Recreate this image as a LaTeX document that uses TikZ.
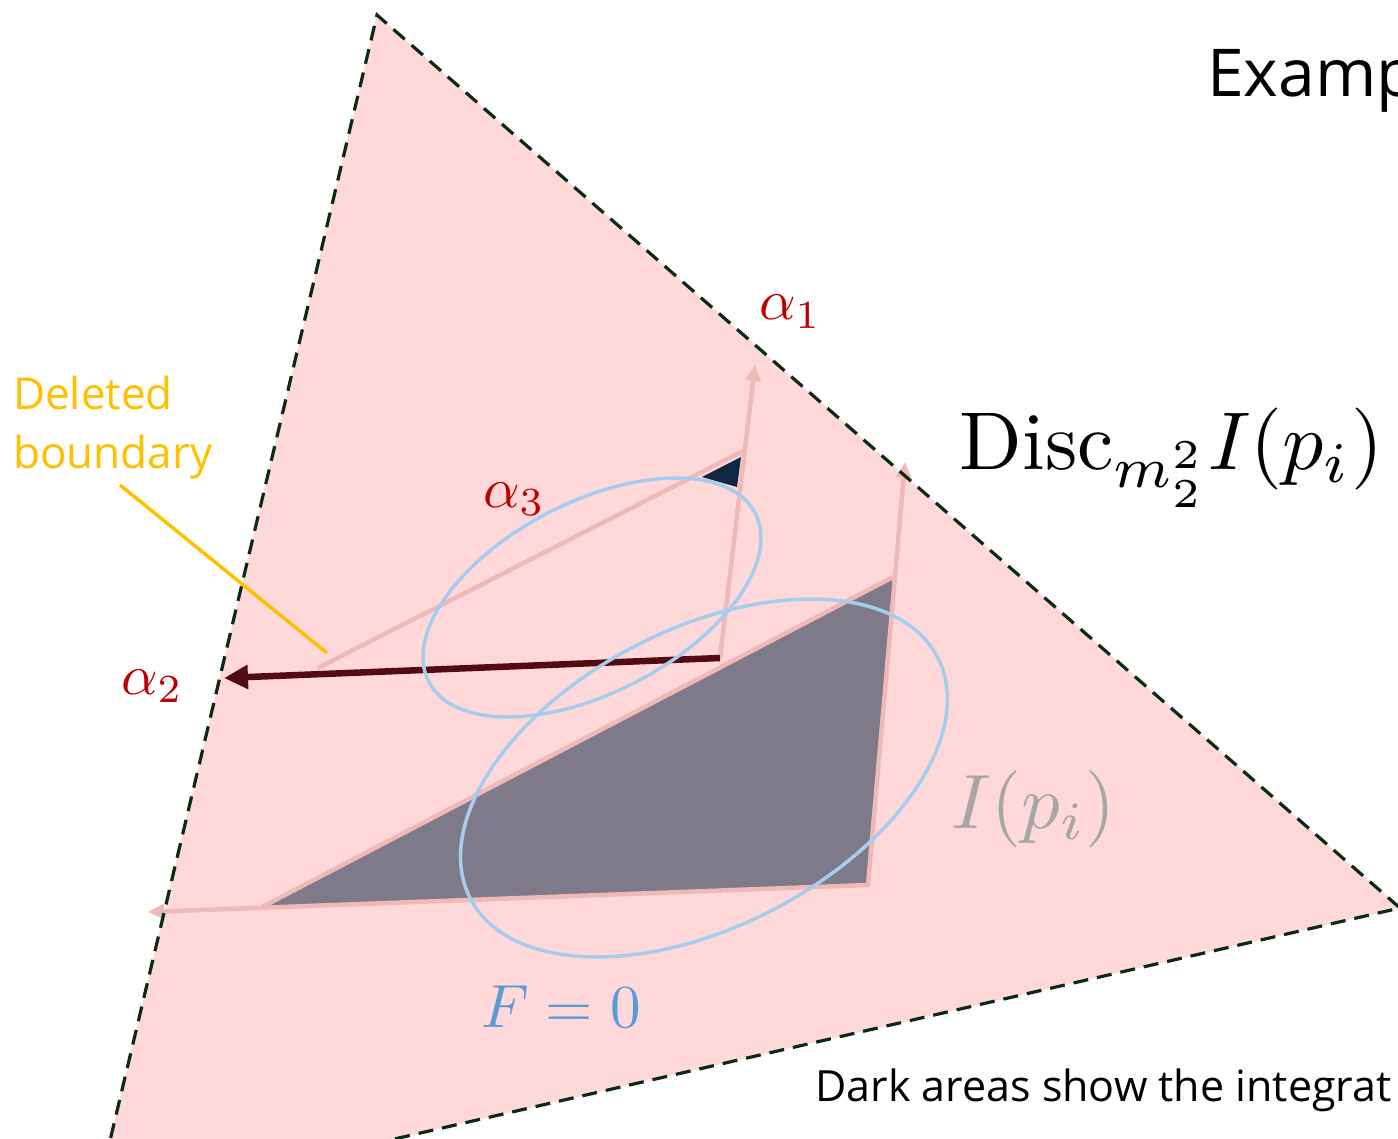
\documentclass[tikz,border=0pt]{standalone}
\usepackage{fontspec}
\newfontfamily\uifont{Open Sans}
\usetikzlibrary{arrows.meta}
\definecolor{pinkbg}{HTML}{FFD9D9}
\definecolor{pinkln}{HTML}{EFB9B8}
\definecolor{darkfill}{HTML}{7F7A89}
\definecolor{navyfill}{HTML}{0E2841}
\definecolor{ellblue}{HTML}{A6CDEF}
\definecolor{arrowred}{HTML}{520B10}
\definecolor{alphared}{HTML}{C00000}
\definecolor{labgray}{HTML}{A6A6A6}
\definecolor{labblue}{HTML}{5B9BD5}
\definecolor{orangeln}{HTML}{FFC000}
\definecolor{dashgreen}{HTML}{0B2A14}
\tikzset{
  pinkline/.style={draw=pinkln, line width=4.5pt, line join=miter},
  pinktip/.style={-{Triangle[length=16pt,width=15pt]}},
  ellline/.style={draw=ellblue, line width=3.5pt},
  boundary/.style={draw=dashgreen, line width=3.2pt, dash pattern=on 15pt off 9pt},
  txt/.style={inner sep=0pt, anchor=base west},
}
\begin{document}
\begin{tikzpicture}[x=1pt,y=-1pt]
\useasboundingbox (0,0) rectangle (1398,1139);
\clip (0,0) rectangle (1398,1139);
% big triangle
\coordinate (T) at (377,15);
\coordinate (R) at (1400,908);
\coordinate (L) at (94,1208);
\fill[pinkbg] (T) -- (R) -- (L) -- cycle;
% dark regions
\coordinate (D1) at (262,907);
\coordinate (D2) at (893,577);
\coordinate (D3) at (868,885);
\fill[darkfill] (D1) -- (D2) -- (D3) -- cycle;
\coordinate (N1) at (741,457);
\coordinate (N2) at (702,477);
\coordinate (N3) at (737,487);
\fill[navyfill] (N1) -- (N2) -- (N3) -- cycle;
% pink wedge lines
\coordinate (BL) at (148,912);
\coordinate (BT) at (905,462);
\draw[pinkline, {Triangle[length=16pt,width=15pt]}-{Triangle[length=16pt,width=15pt]}] (BL) -- (D3) -- (BT);
\draw[pinkline] (D1) -- (D2);
\coordinate (U0) at (720,658);
\coordinate (UT) at (755,365);
\coordinate (H0) at (318,668);
\coordinate (H1) at (745,450);
\draw[pinkline] (H0) -- (H1);
\draw[pinkline, pinktip] (U0) -- (UT);
% dark red arrow
\coordinate (A2) at (224,678);
\draw[draw=arrowred, line width=6.5pt, -{Triangle[length=24pt,width=23pt]}] (U0) -- (A2);
% ellipses
\coordinate (E1) at (592,597.5);
\coordinate (E2) at (704,778);
\draw[ellline, rotate around={27.3:(E1)}] (E1) ellipse [x radius=183.7pt, y radius=95.3pt];
\draw[ellline, rotate around={27.3:(E2)}] (E2) ellipse [x radius=262.9pt, y radius=148.8pt];
% dashed outline
\draw[boundary] (L) -- (T) -- (R) -- (L);
% orange pointer
\coordinate (O1) at (120,485);
\coordinate (O2) at (327,653);
\draw[draw=orangeln, line width=3.5pt] (O1) -- (O2);
% texts
\node[txt, text=orangeln] (del1) at (13,410) {\uifont\fontsize{44}{53}\selectfont Deleted};
\node[txt, text=orangeln] (del2) at (13,468) {\uifont\fontsize{44}{53}\selectfont boundary};
\node[txt] (ex) at (1207,97) {\uifont\fontsize{66}{80}\selectfont Examp};
\node[txt] (note) at (815,1101) {\uifont\fontsize{43}{52}\selectfont Dark areas show the integrat};
\node[txt, scale=8.2] (disc) at (958,470) {$\mathrm{Disc}_{m_2^2}I(p_i)$};
\node[txt, text=alphared, scale=5.7] (a1) at (758,320) {$\alpha_1$};
\node[txt, text=alphared, scale=5.7] (a3) at (482,507) {$\alpha_3$};
\node[txt, text=alphared, scale=5.7] (a2) at (120,694) {$\alpha_2$};
\node[txt, text=labgray, scale=7.7] (ip) at (950,828) {$I(p_i)$};
\node[txt, text=labblue, scale=6.1] (f0) at (480,1027) {$F=0$};
\end{tikzpicture}
\end{document}
